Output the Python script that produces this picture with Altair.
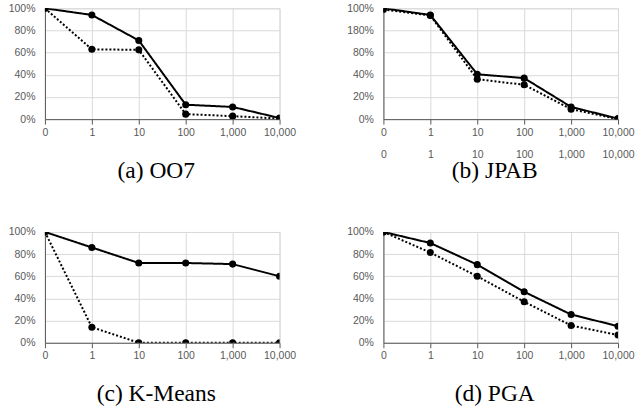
import altair as alt
import pandas as pd

cats = ["0", "1", "10", "100", "1,000", "10,000"]

oo7_solid = [1.00, 0.94, 0.71, 0.13, 0.11, 0.01]
oo7_dotted = [1.00, 0.63, 0.625, 0.045, 0.027, 0.005]

jpab_solid = [1.00, 0.94, 0.405, 0.37, 0.11, 0.005]
jpab_dotted = [0.99, 0.935, 0.36, 0.31, 0.09, 0.0]

km_solid = [1.00, 0.86, 0.72, 0.72, 0.71, 0.60]
km_dotted = [1.00, 0.14, 0.0, 0.0, 0.0, 0.0]

pga_solid = [1.00, 0.90, 0.705, 0.46, 0.255, 0.15]
pga_dotted = [1.00, 0.814, 0.60, 0.37, 0.156, 0.07]

captions = ["(a) OO7", "(b) JPAB", "(c) K-Means", "(d) PGA"]

GRID = "#d9d9d9"
AX = "#595959"
FONT = "Liberation Sans"


def panel(solid, dotted, caption, jpab=False, title_offset=21):
    df = pd.DataFrame({
        "n": cats * 2,
        "s": ["solid"] * len(cats) + ["dotted"] * len(cats),
        "v": solid + dotted,
    })
    xaxis = dict(
        labelAngle=0, grid=True, gridColor=GRID, domainColor=AX, tickColor=AX,
        tickSize=5, labelColor=AX, labelFont=FONT, labelFontSize=10.5,
        labelPadding=3, title=None, labelOverlap=False, labelBound=False,
    )
    yaxis = dict(
        format="%", values=[0, 0.2, 0.4, 0.6, 0.8, 1.0], grid=True, gridColor=GRID,
        domainColor=AX, ticks=False, labelColor=AX, labelFont=FONT,
        labelFontSize=10.5, labelPadding=10, title=None, labelOverlap=False,
    )
    if jpab:
        xaxis["labelExpr"] = "[datum.label, datum.label]"
        xaxis["labelLineHeight"] = 22
        yaxis["labelExpr"] = ("round(datum.value*10) == 8 ? '180%' : "
                              "(round(datum.value*10) == 6 ? '80%' : datum.label)")
    x = alt.X("n:O", sort=cats, scale=alt.Scale(type="point", padding=0),
              axis=alt.Axis(**xaxis))
    y = alt.Y("v:Q", scale=alt.Scale(domain=[0, 1]), axis=alt.Axis(**yaxis))
    base = alt.Chart(df).encode(x=x, y=y)
    lines = base.mark_line(color="black", strokeWidth=2, clip=True).encode(
        strokeDash=alt.StrokeDash(
            "s:N", scale=alt.Scale(domain=["solid", "dotted"], range=[[1, 0], [2, 2]]),
            legend=None),
        detail="s:N",
    )
    pts = base.mark_circle(color="black", size=50, opacity=1, clip=True)
    return alt.layer(lines, pts).properties(
        width=235, height=111,
        title=alt.TitleParams(caption, orient="bottom", font="Liberation Serif",
                              fontSize=23.5, fontWeight="normal", color="black",
                              offset=title_offset, dx=-6, anchor="middle"),
    )


a = panel(oo7_solid, oo7_dotted, captions[0])
b = panel(jpab_solid, jpab_dotted, captions[1], jpab=True, title_offset=-1)
c = panel(km_solid, km_dotted, captions[2])
d = panel(pga_solid, pga_dotted, captions[3])

chart = alt.vconcat(
    alt.hconcat(a, b, spacing=104, bounds="flush"),
    alt.hconcat(c, d, spacing=104, bounds="flush"),
    spacing=224, bounds="flush",
).properties(
    padding={"left": 7, "top": 2, "right": 0, "bottom": 0}
).configure_view(stroke=None).configure(background="white")

chart.save("out.html", embed_options={"renderer": "svg", "actions": False})
